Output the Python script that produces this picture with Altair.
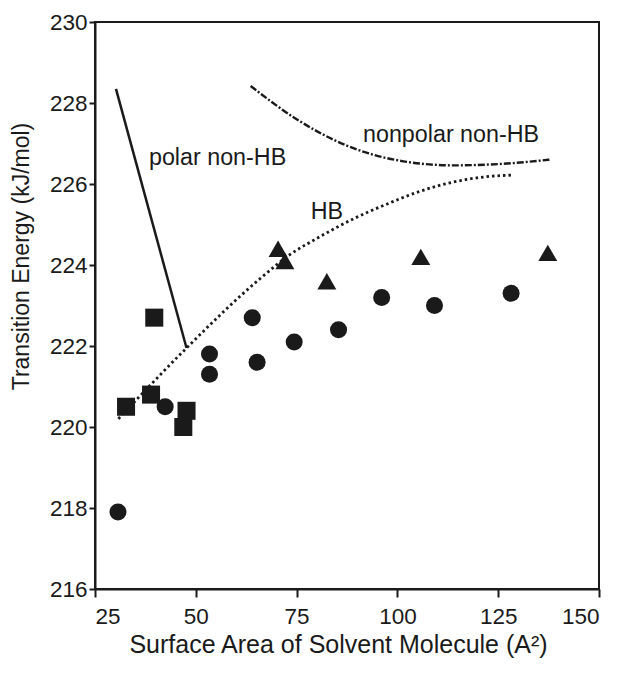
import altair as alt
import pandas as pd

# Scatter data
circle_x = [30.7, 42.4, 53.4, 53.4, 64.0, 65.2, 74.4, 85.4, 96.1, 109.2, 128.2]
circle_y = [217.9, 220.5, 221.8, 221.3, 222.7, 221.6, 222.1, 222.4, 223.2, 223.0, 223.3]
square_x = [32.7, 38.9, 39.7, 46.9, 47.7]
square_y = [220.5, 220.8, 222.7, 220.0, 220.4]
triangle_x = [70.4, 72.1, 82.5, 105.8, 137.3]
triangle_y = [224.4, 224.1, 223.6, 224.2, 224.3]

# Curves
polar_x = [30.2, 47.7]
polar_y = [228.35, 221.95]
hb_x = [30.8, 47.7, 65.9, 73.4, 80.8, 89.1, 97.3, 105.6, 113.9, 122.1, 128.3]
hb_y = [220.2, 221.95, 223.66, 224.26, 224.7, 225.14, 225.5, 225.82, 226.05, 226.18, 226.22]
np_x = [63.6, 75.0, 87.4, 101.5, 113.9, 126.3, 137.7]
np_y = [228.42, 227.6, 226.95, 226.56, 226.46, 226.5, 226.6]

# Labels
label_text = ["polar non-HB", "HB", "nonpolar non-HB"]
label_x = [55.4, 82.5, 113.3]
label_y = [226.65, 225.3, 227.2]

FONT = "Liberation Sans"

pts = pd.DataFrame({
    "x": circle_x + square_x + triangle_x,
    "y": circle_y + square_y + triangle_y,
    "g": ["circle"] * len(circle_x) + ["square"] * len(square_x) + ["triangle"] * len(triangle_x),
})
lines = pd.DataFrame({
    "x": polar_x + hb_x + np_x,
    "y": polar_y + hb_y + np_y,
    "s": ["polar"] * len(polar_x) + ["hb"] * len(hb_x) + ["np"] * len(np_x),
    "o": list(range(len(polar_x))) + list(range(len(hb_x))) + list(range(len(np_x))),
})
labels = pd.DataFrame({"t": label_text, "x": label_x, "y": label_y})

xs = alt.Scale(domain=[25, 150], nice=False, zero=False)
ys = alt.Scale(domain=[216, 230], nice=False, zero=False)

xax = alt.Axis(values=[25, 50, 75, 100, 125, 150], title="Surface Area of Solvent Molecule (A\u00b2)",
               grid=False, tickSize=8, labelPadding=8, titleFontSize=25,
               titleX=243, titleY=55, titleBaseline="middle")
yax = alt.Axis(values=[216, 218, 220, 222, 224, 226, 228, 230], title="Transition Energy (kJ/mol)",
               grid=False, tickSize=6, labelPadding=2, titleFontSize=23,
               titleX=-74, titleY=234, titleBaseline="middle")

base_x = alt.X("x:Q", scale=xs, axis=xax)
base_y = alt.Y("y:Q", scale=ys, axis=yax)

def line_layer(name, dash, width):
    return alt.Chart(lines).transform_filter(alt.datum.s == name).mark_line(
        color="#1a1a1a", strokeWidth=width, strokeDash=dash, interpolate="monotone"
    ).encode(x=base_x, y=base_y, order="o:Q")

polar = alt.Chart(lines).transform_filter(alt.datum.s == "polar").mark_line(
    color="#1a1a1a", strokeWidth=2.5).encode(x=base_x, y=base_y, order="o:Q")
hb = line_layer("hb", [2.5, 3], 2.8)
npl = line_layer("np", [7, 2, 2, 2], 2.4)

points = alt.Chart(pts).mark_point(filled=True, opacity=1, color="#1a1a1a").encode(
    x=base_x, y=base_y,
    shape=alt.Shape("g:N", scale=alt.Scale(domain=["circle", "square", "triangle"],
                                           range=["circle", "square", "triangle-up"]), legend=None),
    size=alt.Size("g:N", scale=alt.Scale(domain=["circle", "square", "triangle"],
                                         range=[290, 360, 300]), legend=None),
)

text = alt.Chart(labels).mark_text(font=FONT, fontSize=23.3, color="#1a1a1a").encode(
    x=base_x, y=base_y, text="t:N")

chart = alt.layer(polar, hb, npl, points, text).properties(
    width=504, height=567,
    autosize=alt.AutoSizeParams(type="none"),
    padding={"left": 87, "top": 14, "right": 13, "bottom": 72},
).configure_view(stroke="#1a1a1a", strokeWidth=2).configure_axis(
    domainColor="#1a1a1a", domainWidth=2, tickColor="#1a1a1a", tickWidth=2,
    labelFont=FONT, labelFontSize=22.5, labelColor="#1a1a1a",
    titleFont=FONT, titleColor="#1a1a1a", titleFontWeight="normal",
)

chart.save("out.html", embed_options={"renderer": "svg", "actions": False})
